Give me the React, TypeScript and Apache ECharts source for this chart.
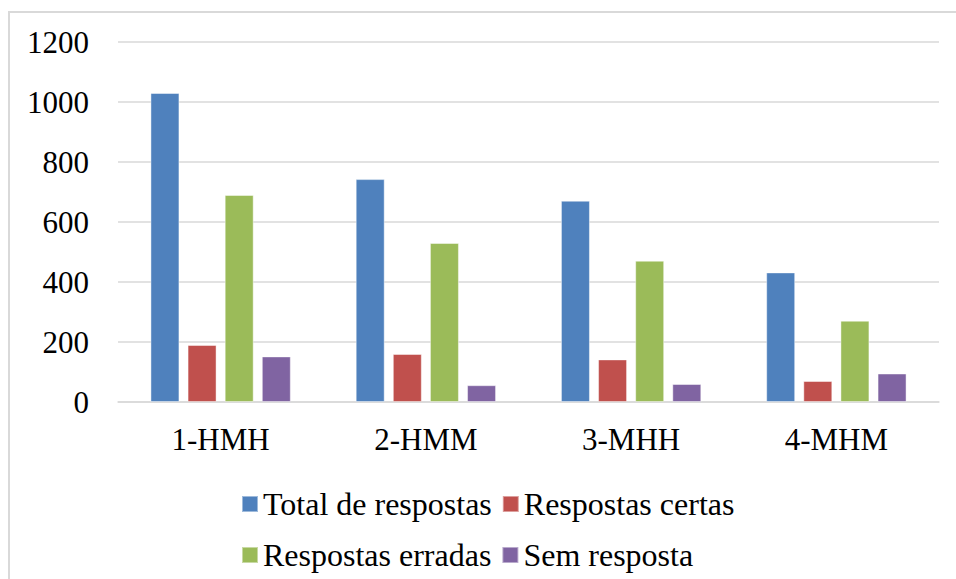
import React, { useEffect, useRef } from "react";
import * as echarts from "echarts";

const categories = ["1-HMH", "2-HMM", "3-MHH", "4-MHM"];
const seriesNames = ["Total de respostas", "Respostas certas", "Respostas erradas", "Sem resposta"];
const totalRespostas = [1030, 743, 671, 432];
const respostasCertas = [190, 160, 142, 70];
const respostasErradas = [690, 530, 471, 271];
const semResposta = [152, 56, 60, 95];
const colors = ["#4f81bd", "#c0504d", "#9bbb59", "#8064a2"];
const yTicks = { min: 0, max: 1200, interval: 200 };

const FONT = "'Liberation Serif', 'Times New Roman', serif";

export default function App() {
  const ref = useRef<HTMLDivElement>(null);
  useEffect(() => {
    if (!ref.current) return;
    const chart = echarts.init(ref.current, null, { renderer: "svg" });
    const values = [totalRespostas, respostasCertas, respostasErradas, semResposta];
    const legendText = { fontFamily: FONT, fontSize: 32, color: "#000" };
    chart.setOption({
      animation: false,
      backgroundColor: "#fff",
      grid: { left: 118, right: 17, top: 42, bottom: 177 },
      legend: [
        {
          data: [seriesNames[0], seriesNames[1]],
          left: 236,
          top: 483,
          itemWidth: 16,
          itemHeight: 16,
          itemGap: 10,
          icon: "rect",
          textStyle: legendText,
          selectedMode: false,
        },
        {
          data: [seriesNames[2], seriesNames[3]],
          left: 236,
          top: 534,
          itemWidth: 16,
          itemHeight: 16,
          itemGap: 10,
          icon: "rect",
          textStyle: legendText,
          selectedMode: false,
        },
      ],
      xAxis: {
        type: "category",
        data: categories,
        axisLine: { lineStyle: { color: "#d9d9d9", width: 1.5 } },
        axisTick: { show: false },
        axisLabel: { fontFamily: FONT, fontSize: 31, color: "#000", margin: 22 },
      },
      yAxis: {
        type: "value",
        min: yTicks.min,
        max: yTicks.max,
        interval: yTicks.interval,
        axisLine: { show: false },
        axisTick: { show: false },
        splitLine: { lineStyle: { color: "#d9d9d9", width: 1.5 } },
        axisLabel: {
          fontFamily: FONT,
          fontSize: 31,
          color: "#000",
          margin: 29,
          formatter: (v: number) => String(v),
        },
      },
      graphic: [
        {
          type: "rect",
          shape: { x: 9, y: 12, width: 1000, height: 1000 },
          style: { fill: "none", stroke: "#d9d9d9", lineWidth: 2 },
          silent: true,
          z: -1,
        },
      ],
      series: seriesNames.map((name, i) => ({
        name,
        type: "bar",
        data: values[i],
        barWidth: 29,
        barGap: "28%",
        itemStyle: {
          color: colors[i],
          borderColor: "rgba(255,255,255,0.45)",
          borderWidth: 1,
        },
      })),
    });
    return () => chart.dispose();
  }, []);
  return (
    <div
      ref={ref}
      style={{ position: "fixed", left: 0, top: 0, width: 956, height: 579 }}
    />
  );
}
